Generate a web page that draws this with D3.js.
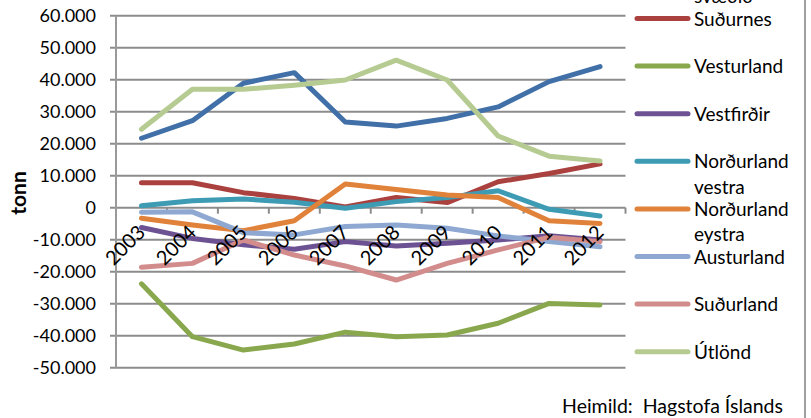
<!DOCTYPE html>
<html>
<head>
<meta charset="utf-8">
<script src="https://cdn.jsdelivr.net/npm/d3@7"></script>
<style>
  html, body { margin: 0; padding: 0; background: #fff; }
  svg { display: block; font-family: Lato, "Open Sans", sans-serif; }
</style>
</head>
<body>
<svg id="chart" width="811" height="418"></svg>
<script>
const years = ["2003","2004","2005","2006","2007","2008","2009","2010","2011","2012"];
const seriesNames = ["Höfuðborgar\nsvæðið","Suðurnes","Vesturland","Vestfirðir","Norðurland\nvestra","Norðurland\neystra","Austurland","Suðurland","Útlönd"];
const seriesColors = ["#4170A8","#AA413E","#89A84E","#6C5292","#3E9BB4","#E0823A","#8EA8D2","#D28C8C","#B6CB91"];
const hofudborgarsvaedid = [21700, 27200, 38900, 42200, 26800, 25500, 27900, 31500, 39400, 44100];
const sudurnes          = [7800, 7800, 4700, 2900, 200, 3200, 1600, 8100, 10700, 13700];
const vesturland        = [-23800, -40300, -44500, -42600, -38900, -40300, -39800, -36100, -29900, -30400];
const vestfirdir        = [-6200, -9600, -11600, -13000, -10600, -12000, -11100, -10100, -8800, -10100];
const nordurlandVestra  = [600, 2200, 2700, 1700, -200, 1900, 3200, 5300, -500, -2600];
const nordurlandEystra  = [-3300, -5400, -7200, -4100, 7400, 5700, 4000, 3200, -4100, -4900];
const austurland        = [-1400, -1300, -7800, -8500, -5900, -5400, -6400, -8800, -10600, -12200];
const sudurland         = [-18600, -17400, -10100, -14800, -18200, -22600, -17400, -13200, -9200, -10600];
const utlond            = [24500, 37000, 37000, 38300, 39900, 46100, 39900, 22400, 16100, 14600];
const seriesValues = [hofudborgarsvaedid, sudurnes, vesturland, vestfirdir, nordurlandVestra, nordurlandEystra, austurland, sudurland, utlond];
const yTicks = [-50000,-40000,-30000,-20000,-10000,0,10000,20000,30000,40000,50000,60000];
const yTitle = "tonn";
const sourceText = "Heimild:  Hagstofa Íslands";

const svg = d3.select("#chart");
const pLeft = 116, pRight = 625.5, pTop = 15.7, pBottom = 367.7;

const x = d3.scaleBand().domain(years).range([pLeft, pRight]).padding(0);
const y = d3.scaleLinear().domain([-50000, 60000]).range([pBottom, pTop]);
const loc = d3.formatLocale({decimal: ",", thousands: ".", grouping: [3], currency: ["", ""], minus: "-"});
const fmt = loc.format(",d");

const gridColor = "#8c8c8c";

// gridlines + y tick marks
svg.append("g").selectAll("line").data(yTicks).join("line")
  .attr("x1", pLeft - 6).attr("x2", pRight)
  .attr("y1", d => y(d)).attr("y2", d => y(d))
  .attr("stroke", gridColor).attr("stroke-width", 2);

// y axis line
svg.append("line").attr("x1", pLeft).attr("x2", pLeft).attr("y1", pTop).attr("y2", pBottom)
  .attr("stroke", "#9a9a9a").attr("stroke-width", 2);

// x category ticks on zero line
const boundaries = years.map(d => x(d) + x.bandwidth());
svg.append("g").selectAll("line").data(boundaries).join("line")
  .attr("x1", d => d).attr("x2", d => d)
  .attr("y1", y(0)).attr("y2", y(0) + 6)
  .attr("stroke", gridColor).attr("stroke-width", 2);

// y tick labels
svg.append("g").selectAll("text").data(yTicks).join("text")
  .attr("x", 96).attr("y", d => y(d)).attr("dy", "0.36em")
  .attr("text-anchor", "end").attr("font-size", 18).attr("fill", "#000")
  .text(d => fmt(d));

// y title
svg.append("text").attr("transform", `translate(26,193) rotate(-90)`)
  .attr("text-anchor", "middle").attr("font-size", 21).attr("font-weight", "bold")
  .text(yTitle);

// lines
const line = d3.line().x((d, i) => x(years[i]) + x.bandwidth() / 2).y(d => y(d));
svg.append("g").selectAll("path").data(seriesValues).join("path")
  .attr("d", d => line(d))
  .attr("fill", "none")
  .attr("stroke", (d, i) => seriesColors[i])
  .attr("stroke-width", 5)
  .attr("stroke-linejoin", "round").attr("stroke-linecap", "round");

// x labels
svg.append("g").selectAll("text").data(years).join("text")
  .attr("transform", d => `translate(${x(d) + x.bandwidth() / 2 + 5},${y(0) + 26}) rotate(-45)`)
  .attr("text-anchor", "end").attr("font-size", 20).attr("fill", "#000")
  .text(d => d);

// legend
const legY = d3.scaleLinear().domain([1, 8]).range([18.5, 351.7]);
const leg = svg.append("g").selectAll("g").data(seriesNames).join("g")
  .attr("transform", (d, i) => `translate(0,${legY(i)})`);
leg.append("line").attr("x1", 637).attr("x2", 688).attr("y1", 0).attr("y2", 0)
  .attr("stroke", (d, i) => seriesColors[i]).attr("stroke-width", 5).attr("stroke-linecap", "round");
leg.append("text").attr("x", 694).attr("font-size", 19).attr("fill", "#000")
  .selectAll("tspan").data(d => d.split("\n")).join("tspan")
  .attr("x", 694).attr("y", (d, j) => 7 + j * 25.5)
  .text(d => d);

// right border
svg.append("line").attr("x1", 805).attr("x2", 805).attr("y1", 0).attr("y2", 418)
  .attr("stroke", "#a0a0a0").attr("stroke-width", 2);

// source
svg.append("text").attr("x", 783).attr("y", 413).attr("text-anchor", "end")
  .attr("font-size", 19.5).attr("fill", "#000").style("white-space", "pre")
  .text(sourceText);
</script>
</body>
</html>
